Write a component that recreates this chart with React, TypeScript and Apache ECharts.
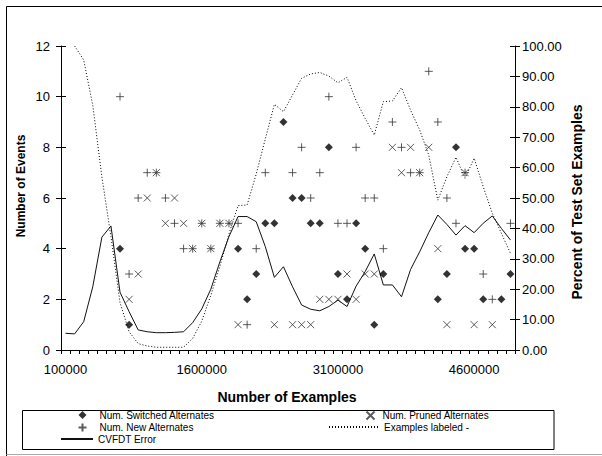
import { useEffect, useRef } from "react";
import * as echarts from "echarts";

const categories = [
  "100000", "200000", "300000", "400000", "500000", "600000", "700000", "800000", "900000", "1000000",
  "1100000", "1200000", "1300000", "1400000", "1500000", "1600000", "1700000", "1800000", "1900000", "2000000",
  "2100000", "2200000", "2300000", "2400000", "2500000", "2600000", "2700000", "2800000", "2900000", "3000000",
  "3100000", "3200000", "3300000", "3400000", "3500000", "3600000", "3700000", "3800000", "3900000", "4000000",
  "4100000", "4200000", "4300000", "4400000", "4500000", "4600000", "4700000", "4800000", "4900000", "5000000",
];

const N = null;

// Num. Switched Alternates (left axis)
const switchedAlternates = [
  N, N, N, N, N, N, 4, 1, N, N,
  N, N, N, N, N, N, N, N, N, 4,
  2, 3, 5, 5, 9, 6, 6, 5, 5, 8,
  3, 2, 5, 4, 1, 3, N, N, N, N,
  N, 2, 3, 8, 4, 4, 2, N, 2, 3,
];

// Num. New Alternates (left axis)
const newAlternates = [
  N, N, N, N, N, N, 10, 3, 6, 7,
  7, 6, 5, 4, 4, 5, 4, 5, 5, 5,
  1, 4, 7, N, N, 7, 8, 6, 7, 10,
  5, 5, 8, 6, 6, 4, 9, 8, 7, 7,
  11, 9, 6, 5, 7, N, 3, 2, N, 5,
];

// Num. Pruned Alternates (left axis)
const prunedAlternates = [
  N, N, N, N, N, N, N, 2, 3, 6,
  7, 5, 6, 5, 4, 5, 4, 5, 5, 1,
  N, N, N, 1, N, 1, 1, 1, 2, 2,
  2, 3, 2, 3, 3, N, 8, 7, 8, 7,
  8, 4, 1, N, 7, 1, N, 1, N, N,
];

// Examples labeled - (right axis, percent)
const examplesLabeled = [
  N, 100, 95.4, 80.5, 57, 37.3, 15.6, 6, 2.1, 1.3,
  0.9, 0.9, 0.9, 0.9, 3.8, 9.5, 18, 27.5, 38.2, 47.5,
  47.7, 57.9, 69.4, 80.8, 78.4, 83.9, 89.4, 90.8, 91.3, 90.1,
  87.9, 89.7, 82, 76.2, 70.7, 81.7, 81.9, 86.3, 78.9, 72.4,
  64.1, 49.3, 57, 63.4, 56.5, 63.1, 53.7, 45, 38.4, 31.8,
];

// CVFDT Error (right axis, percent)
const cvfdtError = [
  5.5, 5.3, 9.3, 20.8, 37.1, 40.8, 19.0, 12.6, 6.6, 6.0,
  5.7, 5.7, 5.8, 6.0, 9.0, 13.5, 20.0, 29.0, 37.3, 43.9,
  43.9, 42.2, 34.0, 23.9, 27.4, 20.8, 14.8, 13.4, 12.9, 14.3,
  16.4, 14.3, 21.0, 25.8, 31.6, 21.4, 21.4, 17.5, 26.5, 32.3,
  38.6, 44.4, 41.3, 37.8, 40.9, 38.6, 41.7, 44.1, 40.0, 36.2,
];

const FONT = "'Liberation Sans', Arial, sans-serif";
const plusPath = "path://M0,5L10,5M5,0L5,10";
const crossPath = "path://M0,0L10,10M10,0L0,10";

const toPoints = (arr: (number | null)[]) =>
  arr
    .map((v, i) => (v == null ? null : [categories[i], v]))
    .filter((p) => p !== null);

const toLine = (arr: (number | null)[]) => arr.map((v) => (v == null ? "-" : v));

export default function App() {
  const ref = useRef<HTMLDivElement>(null);

  useEffect(() => {
    if (!ref.current) return;
    const chart = echarts.init(ref.current, undefined, { renderer: "svg" });
    const markStyle = { color: "none", borderColor: "#333", borderWidth: 1 };
    const legendText = { fontFamily: FONT, fontSize: 10, color: "#000", lineHeight: 12 };
    const hiddenDot = { color: "transparent", borderColor: "transparent", borderWidth: 0 };
    const baseLegend = {
      orient: "vertical",
      padding: 0,
      itemGap: 0,
      itemHeight: 8,
      textStyle: legendText,
      selectedMode: false,
      symbolKeepAspect: true,
    };
    chart.setOption({
      animation: false,
      backgroundColor: "#fff",
      textStyle: { fontFamily: FONT },
      grid: { left: 61, right: 87, top: 46, bottom: 106, containLabel: false },
      xAxis: {
        type: "category",
        data: categories,
        boundaryGap: true,
        axisLine: { lineStyle: { color: "#000", width: 1 } },
        axisTick: { show: true, interval: 0, length: 4, lineStyle: { color: "#000" } },
        axisLabel: { interval: 14, fontSize: 13, color: "#000", margin: 13, fontFamily: FONT },
        splitLine: { show: false },
      },
      yAxis: [
        {
          type: "value",
          position: "left",
          min: 0,
          max: 12,
          interval: 2,
          axisLine: { show: true, lineStyle: { color: "#000" } },
          axisTick: { show: true, length: 5, lineStyle: { color: "#000" } },
          axisLabel: { fontSize: 13, color: "#000", margin: 11, fontFamily: FONT },
          splitLine: { show: false },
        },
        {
          type: "value",
          position: "right",
          min: 0,
          max: 100,
          interval: 10,
          axisLine: { show: true, lineStyle: { color: "#000" } },
          axisTick: { show: true, length: 5, lineStyle: { color: "#000" } },
          axisLabel: {
            fontSize: 13,
            color: "#000",
            margin: 7,
            fontFamily: FONT,
            formatter: (v: number) => v.toFixed(2),
          },
          splitLine: { show: false },
        },
        {
          type: "value",
          position: "left",
          min: 0,
          max: 12,
          interval: 2,
          axisLine: { show: false },
          axisTick: { show: true, inside: true, length: 5, lineStyle: { color: "#000" } },
          axisLabel: { show: false },
          splitLine: { show: false },
        },
        {
          type: "value",
          position: "right",
          min: 0,
          max: 100,
          interval: 10,
          axisLine: { show: false },
          axisTick: { show: true, inside: true, length: 5, lineStyle: { color: "#000" } },
          axisLabel: { show: false },
          splitLine: { show: false },
        },
      ],
      legend: [
        {
          ...baseLegend,
          left: 76,
          top: 409,
          itemWidth: 8,
          textStyle: { ...legendText, padding: [0, 0, 0, 8] },
          data: ["Num. Switched Alternates", "Num. New Alternates"],
        },
        {
          ...baseLegend,
          left: 60,
          top: 433,
          itemWidth: 32,
          data: [{ name: "CVFDT Error", itemStyle: hiddenDot }],
        },
        {
          ...baseLegend,
          left: 364,
          top: 409,
          itemWidth: 8,
          textStyle: { ...legendText, padding: [0, 0, 0, 3] },
          data: ["Num. Pruned Alternates"],
        },
        {
          ...baseLegend,
          left: 328,
          top: 421,
          itemWidth: 50,
          data: [{ name: "Examples labeled -", itemStyle: hiddenDot }],
        },
      ],
      graphic: [
        { type: "line", shape: { x1: 6.5, y1: 6.5, x2: 602, y2: 6.5 }, style: { stroke: "#000", lineWidth: 1 } },
        { type: "line", shape: { x1: 6.5, y1: 6.5, x2: 6.5, y2: 456 }, style: { stroke: "#000", lineWidth: 1 } },
        { type: "line", shape: { x1: 6.5, y1: 454.5, x2: 602, y2: 454.5 }, style: { stroke: "#aaa", lineWidth: 1 } },
        {
          type: "rect",
          shape: { x: 22.5, y: 410.5, width: 531.5, height: 39 },
          style: { fill: "none", stroke: "#000", lineWidth: 1 },
          z: -1,
        },
        {
          type: "text",
          x: 20.5,
          y: 186,
          rotation: Math.PI / 2,
          style: { text: "Number of Events", font: `bold 12px ${FONT}`, fill: "#000", textAlign: "center", textVerticalAlign: "middle" },
        },
        {
          type: "text",
          x: 577,
          y: 202,
          rotation: Math.PI / 2,
          style: { text: "Percent of Test Set Examples", font: `bold 14px ${FONT}`, fill: "#000", textAlign: "center", textVerticalAlign: "middle" },
        },
        {
          type: "text",
          x: 287,
          y: 397,
          style: { text: "Number of Examples", font: `bold 14px ${FONT}`, fill: "#000", textAlign: "center", textVerticalAlign: "middle" },
        },
      ],
      series: [
        {
          name: "Num. Switched Alternates",
          type: "scatter",
          data: toPoints(switchedAlternates),
          symbol: "diamond",
          symbolSize: 8,
          symbolKeepAspect: true,
          itemStyle: { color: "#000" },
          z: 5,
        },
        {
          name: "Num. New Alternates",
          type: "scatter",
          data: toPoints(newAlternates),
          symbol: plusPath,
          symbolSize: 8,
          itemStyle: markStyle,
          z: 4,
        },
        {
          name: "Num. Pruned Alternates",
          type: "scatter",
          data: toPoints(prunedAlternates),
          symbol: crossPath,
          symbolSize: 7,
          itemStyle: markStyle,
          z: 4,
        },
        {
          name: "Examples labeled -",
          type: "line",
          yAxisIndex: 1,
          data: toLine(examplesLabeled),
          symbol: "none",
          connectNulls: false,
          lineStyle: { color: "#000", width: 1, type: [1, 2] },
          itemStyle: { color: "#000" },
          z: 3,
        },
        {
          name: "CVFDT Error",
          type: "line",
          yAxisIndex: 1,
          data: toLine(cvfdtError),
          symbol: "none",
          lineStyle: { color: "#111", width: 1 },
          itemStyle: { color: "#111" },
          z: 3,
        },
      ],
    });
    return () => chart.dispose();
  }, []);

  return <div ref={ref} style={{ width: 602, height: 456, position: "absolute", left: 0, top: 0 }} />;
}
